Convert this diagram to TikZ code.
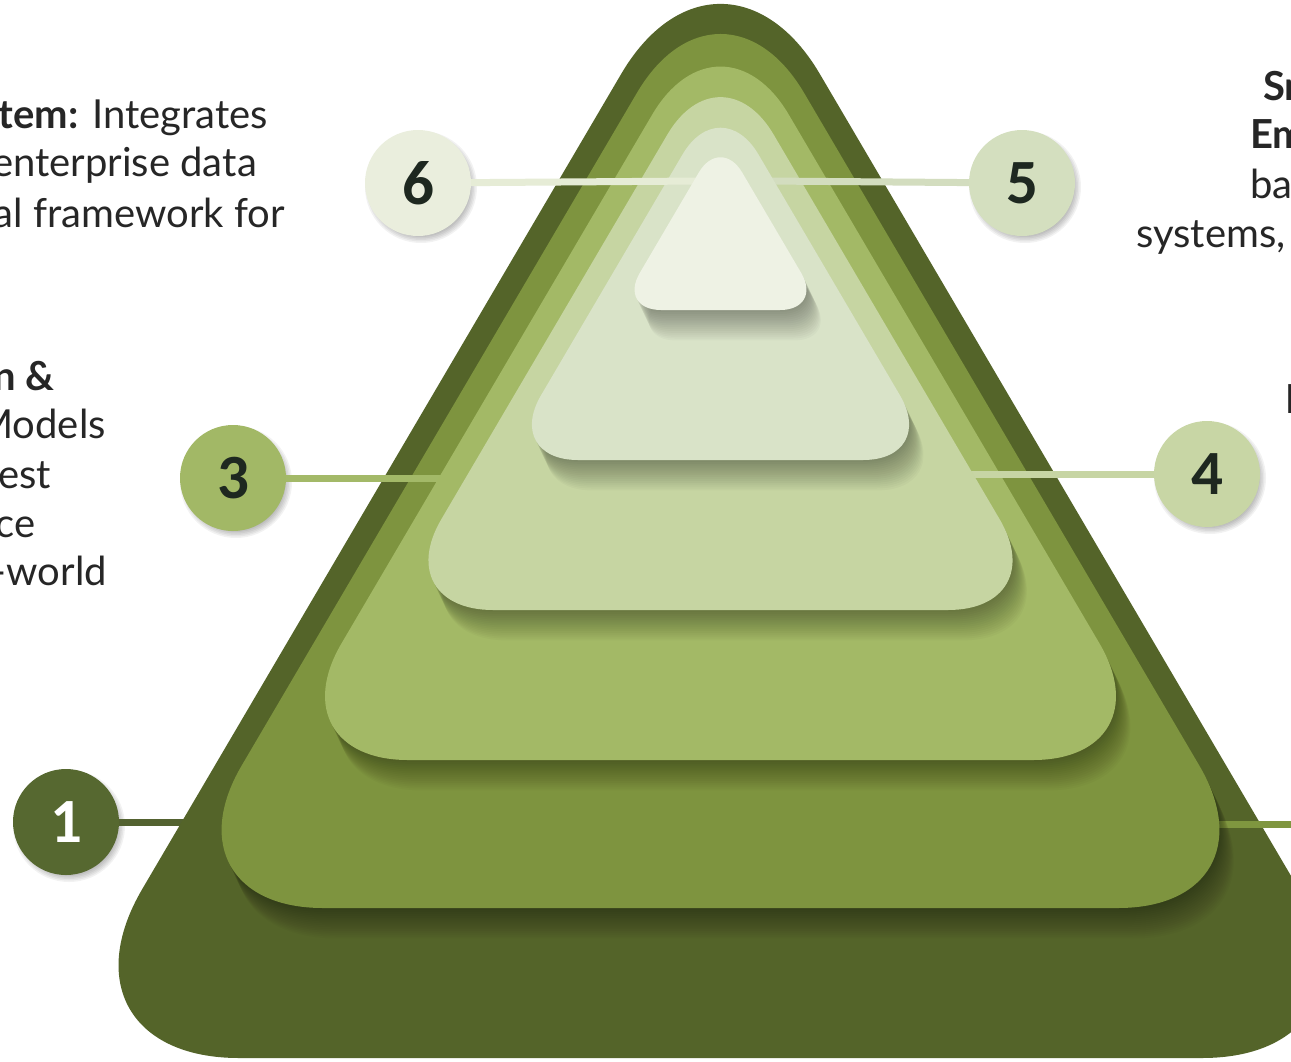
\documentclass[tikz,border=0pt]{standalone}
\usepackage{fontspec}
\setmainfont{Lato}
\newfontfamily\numfont{Carlito}
\usetikzlibrary{calc}

\definecolor{lA}{HTML}{546429}
\definecolor{lB}{HTML}{7E943F}
\definecolor{lC}{HTML}{A3B966}
\definecolor{lD}{HTML}{C6D5A2}
\definecolor{lE}{HTML}{D9E3C8}
\definecolor{lF}{HTML}{EEF2E4}
\definecolor{cA}{HTML}{566830}
\definecolor{cC}{HTML}{A2B866}
\definecolor{cD}{HTML}{C8D6A5}
\definecolor{cE}{HTML}{D4DFBF}
\definecolor{cF}{HTML}{EAEEDD}
\definecolor{kA}{HTML}{536230}
\definecolor{kB}{HTML}{7F963F}
\definecolor{kC}{HTML}{A3B968}
\definecolor{kD}{HTML}{C7D5A4}
\definecolor{kE}{HTML}{D3DDBF}
\definecolor{kF}{HTML}{E6ECD6}
\definecolor{txt}{HTML}{262626}
\definecolor{digit}{HTML}{1E2820}

% H = half base width, B = base y, d = rounding, colour
\newcommand{\layerfill}[4]{%
  \fill[#4, rounded corners=#3pt] (720.5,#2) -- (720.5+#1,#2) -- (720.5,#2-#1/0.5876) -- (720.5-#1,#2) -- cycle;}
\newcommand{\layershade}[3]{%
  \foreach \i in {1,...,16}{%
    \fill[black, opacity=0.022, rounded corners=#3pt, shift={(0.9*\i,1.9*\i)}]
      (720.5,#2) -- (720.5+#1,#2) -- (720.5,#2-#1/0.5876) -- (720.5-#1,#2) -- cycle;}}
% name, x, y, fill, text colour, digit
\newcommand{\numcirc}[6]{%
  \foreach \k in {0,...,5}{\fill[black, opacity=0.05] (#2+3,#3+4) circle (48.5+1.5*\k);}
  \node[numc, fill=#4, text=#5] (#1) at (#2,#3) {#6};}

\tikzset{
  numc/.style={circle, minimum size=106pt, inner sep=0pt, font=\numfont\bfseries\fontsize{63}{63}\selectfont},
  conn/.style={line width=7pt},
  body/.style={font=\fontsize{40}{48}\selectfont, text=txt, inner sep=0pt},
}

\begin{document}
\begin{tikzpicture}[x=1pt, y=-1pt]
\useasboundingbox (0,0) rectangle (1291,1061);
\fill[white] (0,0) rectangle (1291,1061);
\clip (0,0) rectangle (1291,1061);

% number circles
\numcirc{n6}{418}{183}{cF}{digit}{6}
\numcirc{n5}{1022}{183}{cE}{digit}{5}
\numcirc{n3}{233}{478}{cC}{digit}{3}
\numcirc{n4}{1207}{474}{cD}{digit}{4}
\numcirc{n1}{66}{822}{cA}{white}{1}

% connector end points (just inside each layer's edge)
\coordinate (e1) at (190,822);
\coordinate (e2) at (1195,824);
\coordinate (c2) at (1330,824);
\coordinate (e3) at (446,478);
\coordinate (e4) at (965,474);
\coordinate (e5) at (765,181);
\coordinate (e6) at (702,181);

% layer 1
\draw[conn, kA] (n1) -- (e1);
\layerfill{677.5}{1058}{196}{lA}
% layer 2
\draw[conn, kB] (e2) -- (c2);
\layershade{562.5}{908}{165}
\layerfill{562.5}{908}{165}{lB}
% layer 3
\draw[conn, kC] (n3) -- (e3);
\layershade{447.5}{760}{135}
\layerfill{447.5}{760}{135}{lC}
% layer 4
\draw[conn, kD] (n4) -- (e4);
\layershade{332.5}{610}{105}
\layerfill{332.5}{610}{105}{lD}
% layer 5
\draw[conn, kE] (n5) -- (e5);
\layershade{217.5}{460}{75}
\layerfill{217.5}{460}{75}{lE}
% layer 6
\draw[conn, kF] (n6) -- (e6);
\layershade{102.5}{310}{43}
\layerfill{102.5}{310}{43}{lF}

% texts (cut by the picture's edges, as in the reference)
\node[body, anchor=base east] (t1a) at (268,128) {{\bfseries tem:} Integrates};
\node[body, anchor=base east] (t1b) at (257,176) {enterprise data};
\node[body, anchor=base east] (t1c) at (285,227) {al framework for};

\node[body, anchor=base east] (t2a) at (55,390) {\bfseries n \&};
\node[body, anchor=base east] (t2b) at (106,438) {Models};
\node[body, anchor=base east] (t2c) at (51,488) {est};
\node[body, anchor=base east] (t2d) at (36,537) {ce};
\node[body, anchor=base east] (t2e) at (107,585) {-world};

\node[body, anchor=base west] (t3a) at (1263,100) {\bfseries Sm};
\node[body, anchor=base west] (t3b) at (1250,148) {\bfseries Em};
\node[body, anchor=base west] (t3c) at (1250,198) {ba};
\node[body, anchor=base west] (t3d) at (1136,247) {systems,};
\node[body, anchor=base west] (t4a) at (1285,413) {\bfseries D};
\end{tikzpicture}
\end{document}
